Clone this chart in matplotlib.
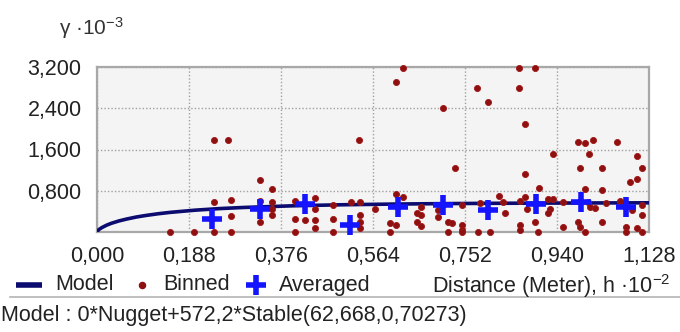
import matplotlib
matplotlib.use("Agg")
import matplotlib.pyplot as plt

plt.rcParams['font.family'] = ['Liberation Sans', 'DejaVu Sans']
plt.rcParams['mathtext.fontset'] = 'custom'
plt.rcParams['mathtext.rm'] = 'Liberation Sans'
plt.rcParams['mathtext.it'] = 'Liberation Sans'

# x in 10^-2 m, gamma in 10^-3
x_ticks = [0.0, 0.188, 0.376, 0.564, 0.752, 0.940, 1.128]
x_labels = ["0,000", "0,188", "0,376", "0,564", "0,752", "0,940", "1,128"]
y_ticks = [0.8, 1.6, 2.4, 3.2]
y_labels = ["0,800", "1,600", "2,400", "3,200"]

# model curve
model_h = [0, 0.002, 0.005, 0.01, 0.02, 0.03, 0.045, 0.06, 0.08, 0.1, 0.125, 0.15,
           0.2, 0.25, 0.3, 0.4, 0.5, 0.6, 0.7, 0.8, 0.9, 1.0, 1.128]
model_g = [0, 0.030, 0.055, 0.086, 0.134, 0.171, 0.215, 0.250, 0.290, 0.321, 0.354, 0.381,
           0.423, 0.454, 0.476, 0.508, 0.528, 0.541, 0.550, 0.556, 0.560, 0.563, 0.566]

# averaged points
avg_h = [0.236, 0.333, 0.425, 0.517, 0.616, 0.708, 0.800, 0.898, 0.990, 1.082]
avg_g = [0.25, 0.45, 0.55, 0.14, 0.48, 0.52, 0.42, 0.55, 0.58, 0.48]

# binned points
bin_h = [0.239, 0.268, 0.536, 0.625, 0.612, 0.708, 0.731, 0.776, 0.800, 0.863,
         0.895, 0.863, 0.875, 0.932, 0.983, 0.997, 1.014, 1.062, 1.006, 0.986,
         1.031, 0.875, 0.904, 0.997, 1.031, 1.104, 1.113, 1.089, 1.104, 0.333,
         0.357,
         0.149, 0.199, 0.239, 0.273, 0.239, 0.273, 0.273, 0.333, 0.333, 0.357,
         0.357, 0.357, 0.405, 0.445, 0.445, 0.405, 0.425, 0.445, 0.445, 0.405,
         0.483, 0.483, 0.483, 0.520, 0.537, 0.537, 0.537, 0.537, 0.568, 0.599,
         0.612, 0.599, 0.612, 0.626, 0.653, 0.663, 0.653, 0.663, 0.663, 0.697,
         0.697, 0.718, 0.725, 0.718, 0.745, 0.745, 0.745, 0.745, 0.779, 0.803,
         0.783, 0.800, 0.822, 0.830, 0.834, 0.864, 0.875, 0.878, 0.864, 0.864,
         0.895, 0.902, 0.922, 0.932, 0.926, 0.922, 0.953, 0.953, 0.983, 0.987,
         0.997, 1.004, 1.007, 1.018, 1.031, 1.041, 1.069, 1.093, 1.113, 1.113,
         1.082, 1.082, 1.104, 1.113]
bin_g = [1.79, 1.79, 1.79, 3.19, 2.91, 2.41, 1.25, 2.80, 2.52, 3.19,
         3.19, 2.80, 2.10, 1.51, 1.75, 1.72, 1.79, 1.75, 1.51, 1.25,
         1.25, 1.12, 0.86, 0.84, 0.82, 1.48, 1.25, 0.97, 1.02, 1.01,
         0.84,
         0.0, 0.0, 0.0, 0.0, 0.59, 0.63, 0.31, 0.61, 0.20, 0.59,
         0.33, 0.45, 0.61, 0.65, 0.45, 0.26, 0.23, 0.23, 0.08, 0.0,
         0.52, 0.26, 0.0, 0.59, 0.59, 0.33, 0.20, 0.08, 0.45, 0.17,
         0.14, 0.0, 0.74, 0.67, 0.36, 0.33, 0.20, 0.11, 0.48, 0.42,
         0.29, 0.20, 0.17, 0.0, 0.14, 0.04, 0.0, 0.52, 0.0, 0.0,
         0.56, 0.45, 0.69, 0.58, 0.36, 0.61, 0.67, 0.45, 0.13, 0.04,
         0.20, 0.0, 0.64, 0.64, 0.45, 0.36, 0.58, 0.09, 0.20, 0.10,
         0.0, 0.59, 0.48, 0.46, 0.20, 0.56, 0.61, 0.42, 0.33, 0.52,
         0.10, 0.0, 0.08, 0.0]

navy = "#0b0b70"
red = "#8e1010"
blue = "#1414ff"
fs = 15.5

W, H = 680, 332
fig = plt.figure(figsize=(6.8, 3.32), dpi=100)
ax = fig.add_axes([97 / W, 1 - 232 / H, 552 / W, 165 / H])
ax.set_facecolor("#f4f4f4")

ax.plot(model_h, model_g, color=navy, lw=2.6, zorder=3)
ax.plot(bin_h, bin_g, 'o', color=red, ms=4.4, mec="#a01818", mew=0.6,
        clip_on=False, zorder=4)
ax.plot(avg_h, avg_g, '+', color=blue, ms=15, mew=4, clip_on=False, zorder=5)

ax.set_xlim(0, 1.128)
ax.set_ylim(0, 3.2)
ax.set_xticks(x_ticks)
ax.set_xticklabels(x_labels)
ax.set_yticks(y_ticks)
ax.set_yticklabels(y_labels)
ax.tick_params(length=0, labelsize=fs, colors="#222222")
ax.tick_params(axis='x', pad=10)
ax.tick_params(axis='y', pad=11)
ax.grid(True, color="#a0a0a0", ls=(0, (1, 1.5)), lw=1)
for s in ax.spines.values():
    s.set_color("#a8a8a8")
    s.set_linewidth(1.6)

# overlay in pixel coords for the labels around the chart
ov = fig.add_axes([0, 0, 1, 1])
ov.set_xlim(0, W)
ov.set_ylim(H, 0)
ov.axis('off')

ov.text(59, 35, r"γ ·10$^{-3}$", fontsize=15, color="#333333", va="baseline")

ly = 285
ov.plot([16, 42], [ly, ly], color=navy, lw=4, solid_capstyle='butt')
ov.text(55, ly, "Model", fontsize=fs, va="center", color="#222222")
ov.plot([142], [ly], 'o', color=red, ms=4.4)
ov.text(163, ly, "Binned", fontsize=fs, va="center", color="#222222")
ov.plot([256], [ly], '+', color=blue, ms=15, mew=4)
ov.text(279, ly, "Averaged", fontsize=fs, va="center", color="#222222")
ov.text(432, ly + 1, r"Distance (Meter), h ·10$^{-2}$", fontsize=fs, va="center",
        color="#222222")

ov.plot([10, W], [296.5, 296.5], color="#b4b4b4", lw=1.2)
ov.text(1, 315, "Model : 0*Nugget+572,2*Stable(62,668,0,70273)", fontsize=fs,
        va="center", color="#222222")

fig.savefig("out.png", dpi=100)
